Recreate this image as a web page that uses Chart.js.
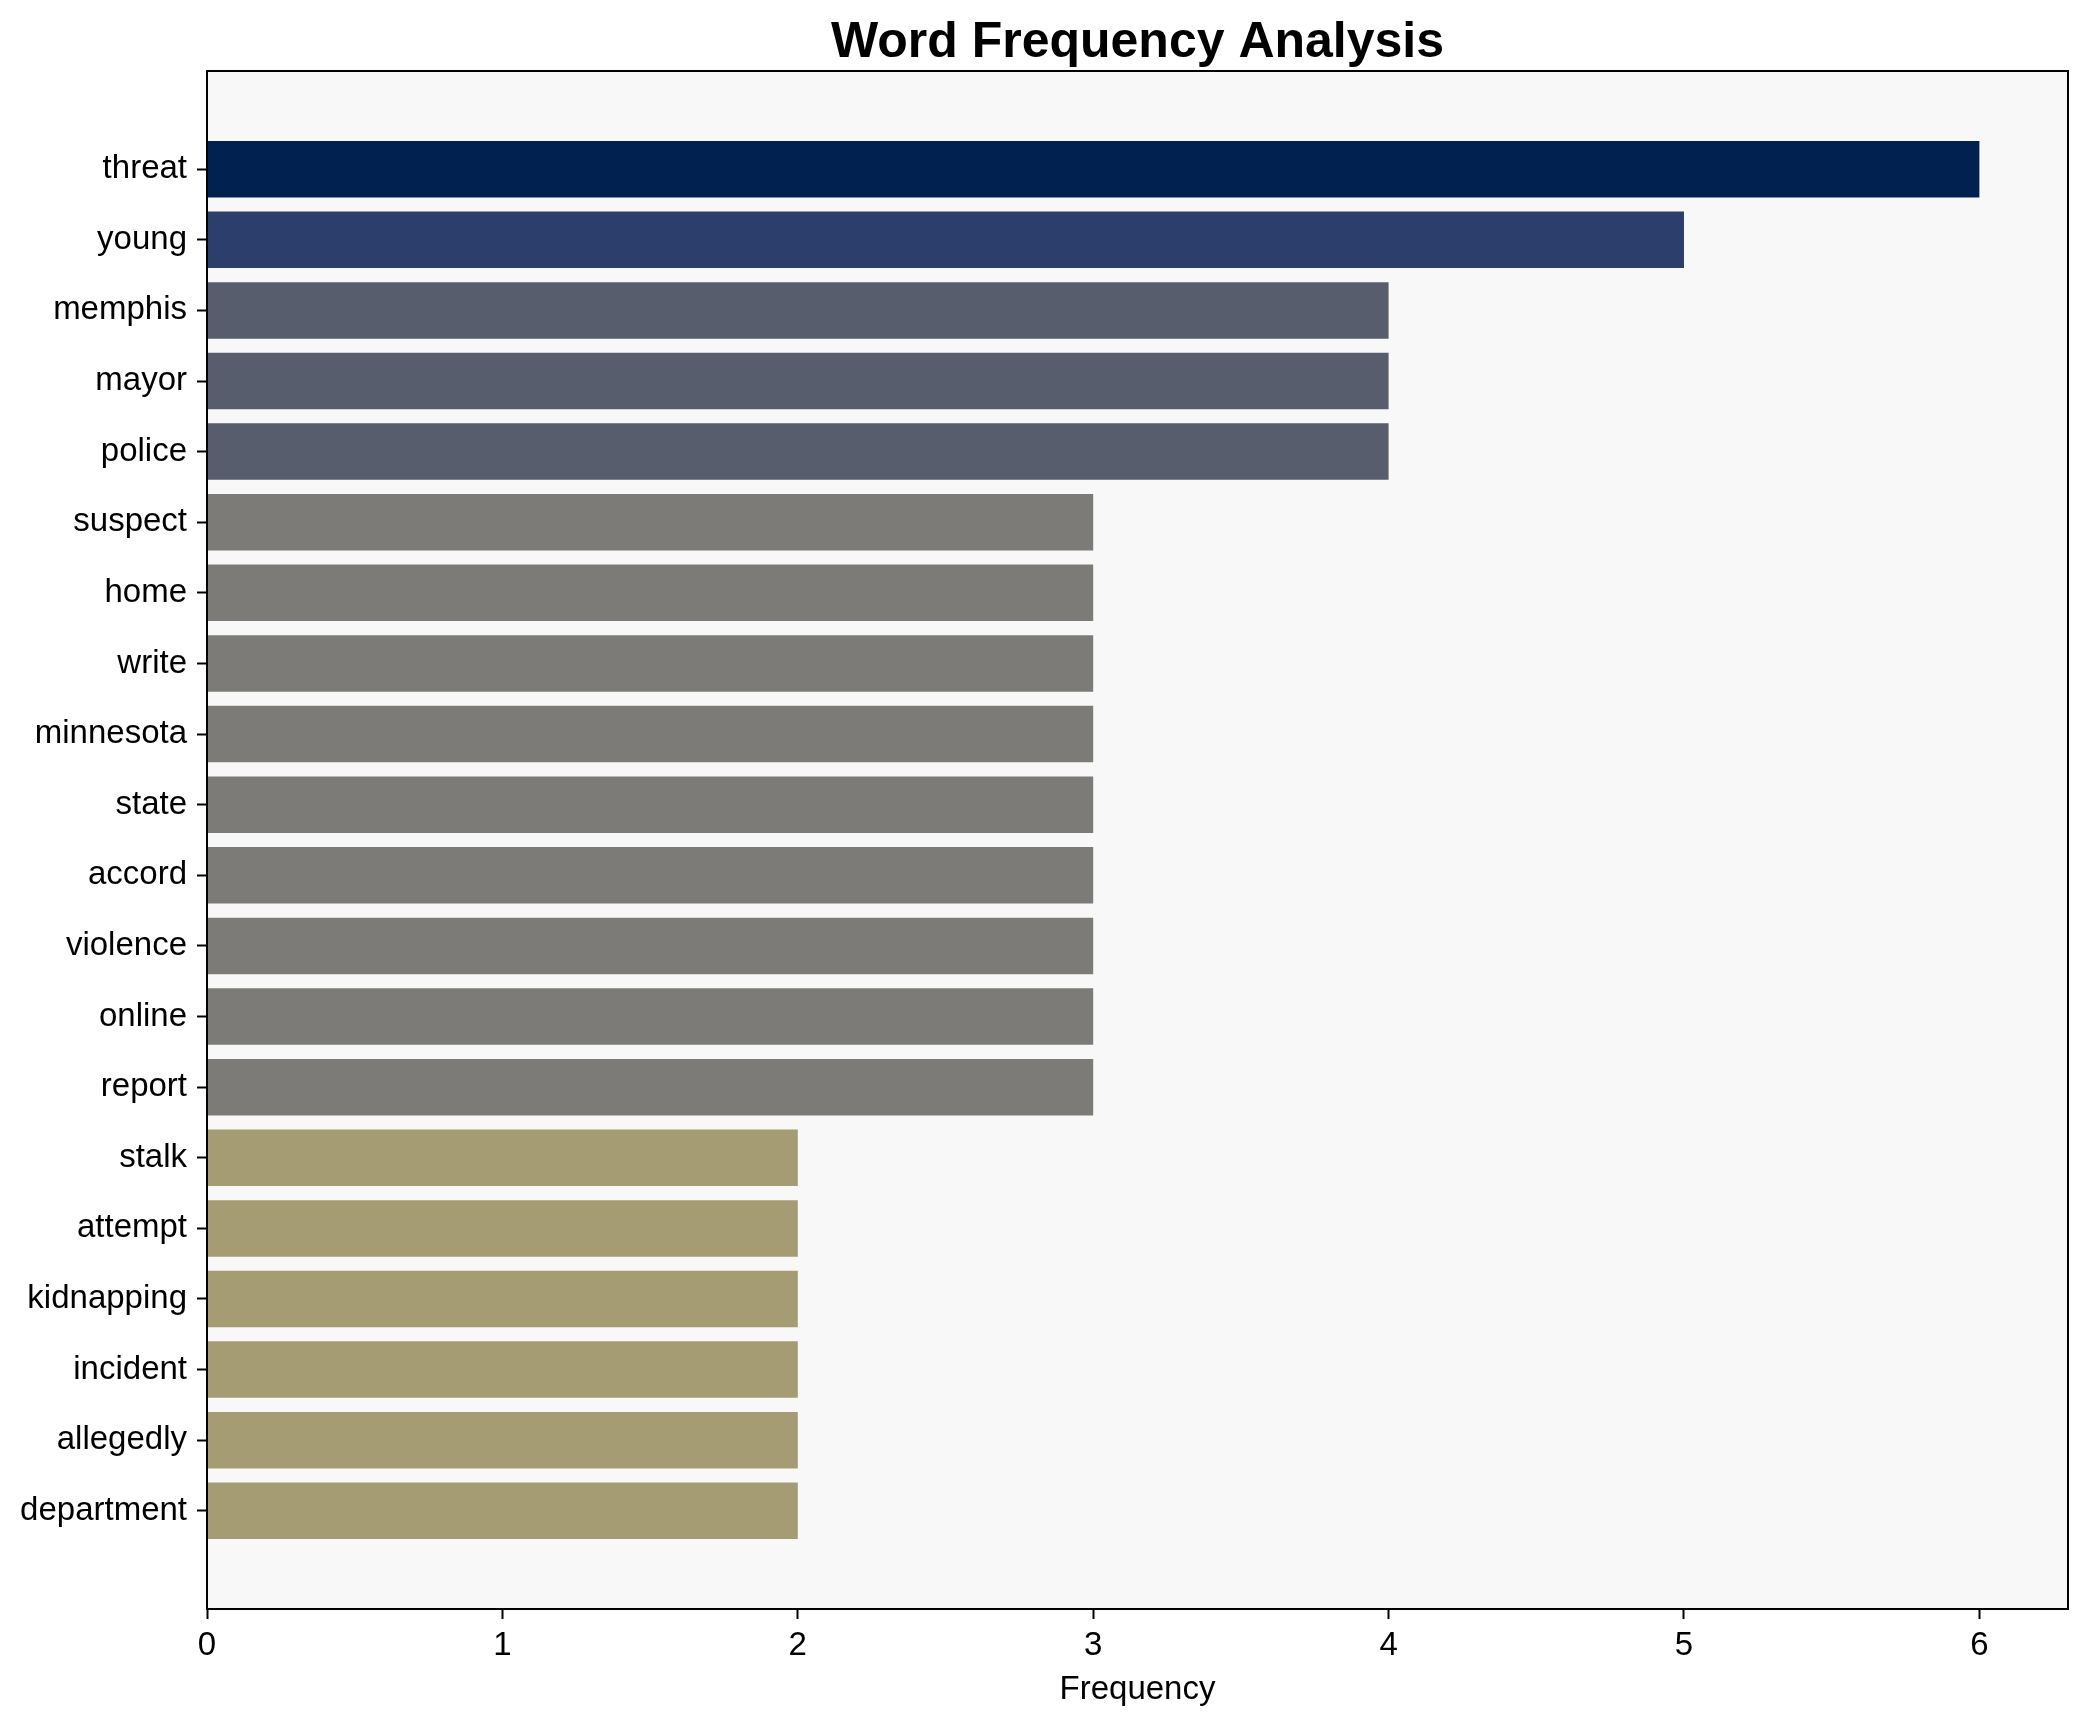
<!DOCTYPE html>
<html>
<head>
<meta charset="utf-8">
<script src="https://cdn.jsdelivr.net/npm/chart.js@4.4.1/dist/chart.umd.min.js"></script>
<style>
  html, body { margin: 0; padding: 0; background: #ffffff; }
  #wrap { width: 2088px; height: 1722px; }
</style>
</head>
<body>
<div id="wrap"><canvas id="chart" width="2088" height="1722"></canvas></div>
<script>
const words = ['threat', 'young', 'memphis', 'mayor', 'police', 'suspect', 'home', 'write',
    'minnesota', 'state', 'accord', 'violence', 'online', 'report', 'stalk', 'attempt',
    'kidnapping', 'incident', 'allegedly', 'department'];
const counts = [6, 5, 4, 4, 4, 3, 3, 3, 3, 3, 3, 3, 3, 3, 2, 2, 2, 2, 2, 2];
const xTicks = [0, 1, 2, 3, 4, 5, 6];

// cividis-like shade by count
const shade = { 6: '#012251', 5: '#2b3e6c', 4: '#575d6d', 3: '#7c7b78', 2: '#a59c74' };

const FONT = "'Liberation Sans', Arial, sans-serif";

const frame = {
    id: 'frame',
    beforeDraw(chart) {
        const { ctx, chartArea: a } = chart;
        ctx.save();
        ctx.fillStyle = '#f8f8f8';
        ctx.fillRect(a.left, a.top, a.right - a.left, a.bottom - a.top);
        ctx.restore();
    },
    afterDraw(chart) {
        const { ctx, chartArea: a } = chart;
        ctx.save();
        ctx.strokeStyle = '#000';
        ctx.lineWidth = 2;
        ctx.strokeRect(a.left, a.top, a.right - a.left, a.bottom - a.top);
        ctx.fillStyle = '#000';
        ctx.font = 'bold 50px ' + FONT;
        ctx.textAlign = 'center';
        ctx.textBaseline = 'alphabetic';
        ctx.fillText('Word Frequency Analysis', (a.left + a.right) / 2, 57);
        ctx.restore();
    }
};

new Chart(document.getElementById('chart'), {
    type: 'bar',
    data: {
        datasets: [{
            data: counts.map((c, i) => ({ x: c, y: i })),
            backgroundColor: counts.map(c => shade[c]),
            borderWidth: 0,
            barPercentage: 0.8,
            categoryPercentage: 1.0
        }]
    },
    options: {
        indexAxis: 'y',
        responsive: false,
        animation: false,
        devicePixelRatio: 1,
        layout: { padding: { top: 71, right: 20, bottom: 0, left: 0 } },
        plugins: {
            legend: { display: false },
            title: { display: false },
            tooltip: { enabled: false }
        },
        scales: {
            x: {
                type: 'linear',
                min: 0,
                max: 6.3,
                afterBuildTicks: s => { s.ticks = xTicks.map(v => ({ value: v })); },
                afterFit: s => { s.height = 113; },
                grid: { drawOnChartArea: false, color: '#000', tickLength: 10, tickWidth: 2 },
                border: { display: true, color: '#000', width: 2 },
                ticks: { color: '#000', padding: 7, font: { family: FONT, size: 33 } },
                title: {
                    display: true, text: 'Frequency', color: '#000',
                    font: { family: FONT, size: 33 }, padding: { top: 0, bottom: 12 }
                }
            },
            y: {
                type: 'linear',
                reverse: true,
                offset: false,
                min: -1.39,
                max: 20.39,
                afterBuildTicks: s => { s.ticks = words.map((w, i) => ({ value: i })); },
                afterFit: s => { s.width = 207; },
                grid: { offset: false, drawOnChartArea: false, color: '#000', tickLength: 10, tickWidth: 2 },
                border: { display: true, color: '#000', width: 2 },
                ticks: {
                    color: '#000', padding: 10, autoSkip: false,
                    font: { family: FONT, size: 33 },
                    callback: v => words[v]
                }
            }
        }
    },
    plugins: [frame]
});
</script>
</body>
</html>
